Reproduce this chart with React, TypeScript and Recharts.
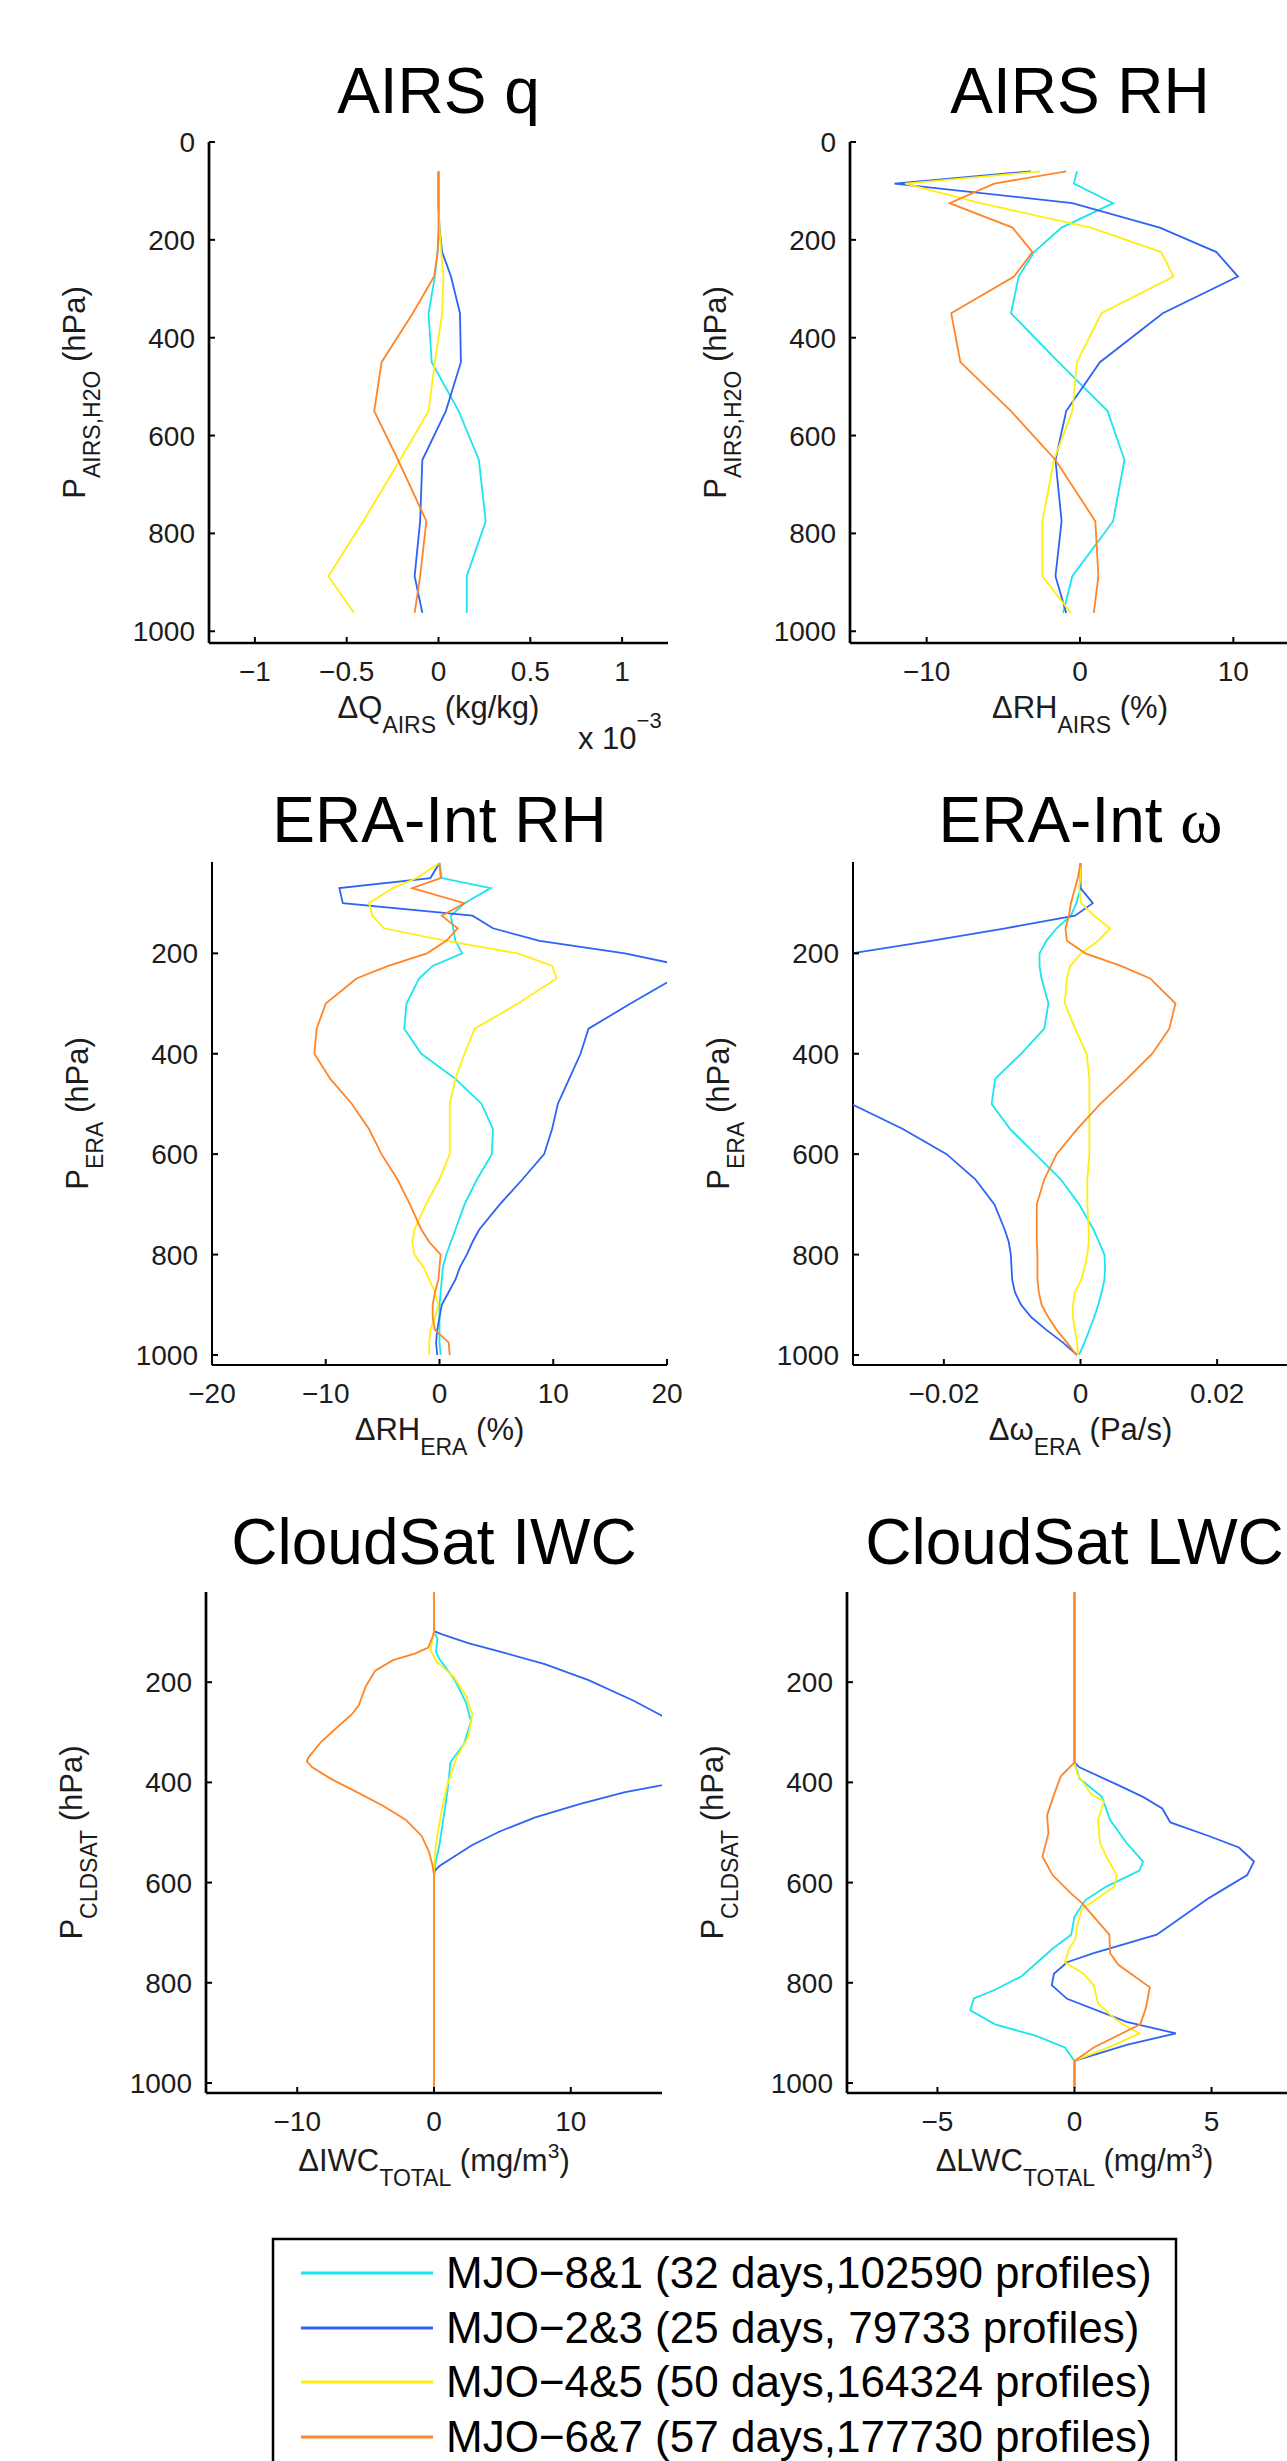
import React from 'react';
import { ScatterChart, Scatter, XAxis, YAxis } from 'recharts';

const FONT = '"Liberation Sans", Arial, Helvetica, sans-serif';
const INK = '#1c1c1c';

const phaseNames = [
  'MJO−8&1 (32 days,102590 profiles)',
  'MJO−2&3 (25 days, 79733 profiles)',
  'MJO−4&5 (50 days,164324 profiles)',
  'MJO−6&7 (57 days,177730 profiles)',
];
const phaseColors = ['#1AE4F0', '#2E63F4', '#FFEE12', '#FF8527'];

// AIRS layer mid pressures (hPa)
const airsP = [60, 85, 125, 175, 225, 275, 350, 450, 550, 650, 775, 887.5, 962.5];

// AIRS q anomaly, in units of 1e-3 kg/kg (axis shows x 10^-3)
const airsQ81 = [0, 0, 0, 0.005, -0.005, -0.02, -0.054, -0.037, 0.11, 0.22, 0.257, 0.154, 0.154];
const airsQ23 = [0, 0, 0, 0.005, 0.02, 0.068, 0.117, 0.122, 0.04, -0.088, -0.1, -0.13, -0.088];
const airsQ45 = [0, 0, 0, 0.005, 0.015, 0.027, 0.02, -0.02, -0.054, -0.21, -0.41, -0.6, -0.46];
const airsQ67 = [0, 0, 0, 0, -0.005, -0.024, -0.14, -0.31, -0.35, -0.22, -0.066, -0.1, -0.13];

// AIRS RH anomaly (%)
const airsRH81 = [-0.2, -0.4, 2.16, -1.2, -3.0, -4.0, -4.5, -1.4, 1.8, 2.9, 2.16, -0.5, -1.1];
const airsRH23 = [-3.2, -12.1, -0.5, 5.2, 8.9, 10.3, 5.4, 1.3, -0.9, -1.6, -1.2, -1.6, -0.9];
const airsRH45 = [-2.6, -11.4, -6.5, 0.7, 5.3, 6.1, 1.4, -0.2, -0.5, -1.7, -2.45, -2.45, -0.6];
const airsRH67 = [-0.9, -5.6, -8.5, -4.4, -3.1, -4.3, -8.4, -7.8, -4.5, -1.6, 1.0, 1.2, 0.9];

// ERA-Interim pressure levels (hPa)
const eraP = [20, 50, 70, 100, 125, 150, 175, 200, 225, 250, 300, 350, 400, 450, 500, 550, 600, 650, 700, 750, 775, 800, 825, 850, 875, 900, 925, 950, 975, 1000];

// ERA RH anomaly (%)
const eraRH81 = [0, 0.2, 4.5, 2.2, 1.0, 1.2, 1.4, 2.0, -0.6, -1.8, -2.9, -3.1, -1.6, 1.4, 3.7, 4.7, 4.6, 3.3, 2.2, 1.4, 1.0, 0.6, 0.3, 0.2, 0.1, 0, 0, 0, 0, 0.1];
const eraRH23 = [0, -0.8, -8.8, -8.5, 2.9, 4.7, 8.8, 16.3, 21.5, 20.6, 16.8, 13.1, 12.4, 11.4, 10.4, 9.9, 9.2, 7.3, 5.3, 3.5, 2.9, 2.4, 1.8, 1.4, 0.8, 0.2, 0, -0.2, -0.3, -0.2];
const eraRH45 = [0, -2.0, -4.1, -6.2, -5.9, -4.9, 0.6, 6.9, 9.9, 10.3, 6.9, 3.1, 2.2, 1.4, 0.9, 0.9, 0.9, 0, -1.2, -2.2, -2.4, -2.2, -1.4, -0.9, -0.4, -0.1, -0.4, -0.8, -0.9, -0.9];
const eraRH67 = [0, 0.1, -2.4, 2.2, 0.2, 1.6, 0.6, -1.1, -4.5, -7.3, -10.0, -10.8, -11.0, -9.6, -7.7, -6.2, -5.1, -3.7, -2.6, -1.6, -0.9, 0.1, 0, -0.1, -0.4, -0.6, -0.6, -0.4, 0.8, 0.9];

// ERA omega anomaly (Pa/s)
const eraW81 = [0, 0, 0, -0.0006, -0.0014, -0.0035, -0.005, -0.006, -0.006, -0.0057, -0.0047, -0.0053, -0.0087, -0.0125, -0.013, -0.0103, -0.0066, -0.0029, -0.0002, 0.0019, 0.0027, 0.0035, 0.0036, 0.0035, 0.0031, 0.0026, 0.002, 0.0013, 0.0006, -0.0002];
const eraW23 = [0, 0, 0, 0.0018, -0.0008, -0.011, -0.0219, -0.0335, -0.045, -0.055, -0.065, -0.07, -0.068, -0.055, -0.0335, -0.026, -0.0196, -0.0154, -0.0126, -0.0111, -0.0105, -0.0102, -0.0101, -0.01, -0.0096, -0.0087, -0.0072, -0.005, -0.0026, -0.0005];
const eraW45 = [0, 0, -0.0002, 0.0001, 0.002, 0.0043, 0.0026, 0.0001, -0.0015, -0.002, -0.0023, -0.0008, 0.0009, 0.0013, 0.0013, 0.0013, 0.0013, 0.001, 0.001, 0.0012, 0.0012, 0.001, 0.0006, 0.0001, -0.0008, -0.0011, -0.0011, -0.0008, -0.0005, -0.0004];
const eraW67 = [0, -0.0004, -0.0008, -0.0014, -0.0017, -0.0022, -0.002, 0.0007, 0.0059, 0.0102, 0.0139, 0.013, 0.0105, 0.0068, 0.0029, -0.0005, -0.0035, -0.0053, -0.0064, -0.0064, -0.0064, -0.0063, -0.0063, -0.0063, -0.0061, -0.0057, -0.0047, -0.0035, -0.002, -0.0006];

// CloudSat IWC anomaly, [hPa, mg/m3]
const iwc81 = [[20, 0], [100, 0], [113, 0.25], [140, 0.15], [154, 0.4], [195, 1.5], [241, 2.35], [278, 2.7], [323, 2.2], [360, 1.2], [415, 1.0], [470, 0.7], [525, 0.4], [562, 0.1], [580, 0], [1010, 0]];
const iwc23 = [[20, 0], [98, 0], [104, 0.55], [122, 2.5], [141, 5.1], [164, 8.1], [196, 11.3], [237, 14.6], [266, 16.6], [300, 18.6], [340, 20], [385, 19.2], [406, 16.6], [420, 13.9], [443, 10.7], [470, 7.4], [498, 4.8], [525, 2.8], [553, 1.2], [567, 0.4], [576, 0.07], [585, 0], [1010, 0]];
const iwc45 = [[20, 0], [100, 0], [136, -0.26], [159, 0.2], [191, 1.5], [228, 2.35], [264, 2.8], [310, 2.5], [347, 1.7], [402, 1.0], [457, 0.55], [521, 0.15], [567, 0], [1010, 0]];
const iwc67 = [[20, 0], [100, 0], [109, -0.1], [131, -0.42], [143, -1.4], [156, -3.0], [177, -4.3], [209, -5.0], [246, -5.5], [264, -6.0], [287, -6.95], [319, -8.25], [351, -9.2], [358, -9.3], [370, -8.9], [392, -7.6], [420, -5.6], [447, -3.7], [475, -2.05], [507, -0.9], [539, -0.36], [567, -0.1], [585, 0], [1010, 0]];

// CloudSat LWC anomaly, [hPa, mg/m3]
const lwc81 = [[20, 0], [360, 0], [392, 0.18], [429, 1.0], [475, 1.3], [521, 1.9], [558, 2.5], [576, 2.37], [608, 1.16], [635, 0.4], [668, 0], [704, -0.12], [732, -0.8], [750, -1.17], [787, -1.93], [814, -2.9], [831, -3.67], [855, -3.8], [883, -2.9], [906, -1.4], [929, -0.35], [952, -0.05], [956, 0], [1010, 0]];
const lwc23 = [[20, 0], [360, 0], [370, 0.18], [402, 1.46], [429, 2.5], [452, 3.2], [480, 3.5], [507, 4.9], [530, 6.0], [558, 6.55], [585, 6.3], [631, 4.9], [677, 3.7], [704, 3.0], [741, 0.7], [759, -0.27], [782, -0.75], [805, -0.83], [832, -0.27], [878, 1.9], [901, 3.7], [924, 1.9], [956, 0], [1010, 0]];
const lwc45 = [[20, 0], [360, 0], [383, 0.1], [425, 0.63], [438, 1.08], [475, 0.86], [521, 0.93], [548, 1.16], [585, 1.54], [608, 1.46], [631, 0.86], [654, 0.26], [686, 0.1], [713, 0.03], [732, -0.2], [759, -0.35], [782, 0.33], [805, 0.7], [841, 0.86], [864, 1.3], [883, 1.76], [901, 2.37], [924, 1.46], [947, 0.4], [956, 0], [1010, 0]];
const lwc67 = [[20, 0], [360, 0], [388, -0.5], [420, -0.72], [466, -1.0], [502, -0.95], [548, -1.17], [585, -0.8], [622, -0.12], [640, 0.26], [668, 0.7], [704, 1.27], [741, 1.3], [764, 1.6], [809, 2.75], [851, 2.6], [883, 2.4], [929, 0.7], [956, 0], [1010, 0]];

// tick labels
const airsPTicks = [0, 200, 400, 600, 800, 1000];
const lowPTicks = [200, 400, 600, 800, 1000];
const qTicks = [-1, -0.5, 0, 0.5, 1];
const airsRHTicks = [-10, 0, 10];
const eraRHTicks = [-20, -10, 0, 10, 20];
const omegaTicks = [-0.02, 0, 0.02];
const iwcTicks = [-10, 0, 10];
const lwcTicks = [-5, 0, 5];

const zip = (ps: number[], vs: number[]) => ps.map((p, i) => ({ p, x: vs[i] }));
const pairs = (rows: number[][]) => rows.map(([p, x]) => ({ p, x }));
const fmt = (v: number) => (v < 0 ? '−' + Math.abs(v) : String(v));

const YW = 140;
const XH = 70;
const MT = 20;
const MR = 40;

const panels = [
  {
    title: 'AIRS q', left: 209, top: 142, w: 459, h: 501, lw: 2.7,
    xDomain: [-1.25, 1.25], xTicks: qTicks, yDomain: [0, 1024], yTicks: airsPTicks,
    xl: { main: 'ΔQ', sub: 'AIRS', tail: '(kg/kg)' }, yl: { main: 'P', sub: 'AIRS,H2O', tail: '(hPa)' },
    series: [zip(airsP, airsQ81), zip(airsP, airsQ23), zip(airsP, airsQ45), zip(airsP, airsQ67)],
  },
  {
    title: 'AIRS RH', left: 850, top: 142, w: 460, h: 501, lw: 2.7,
    xDomain: [-15, 15], xTicks: airsRHTicks, yDomain: [0, 1024], yTicks: airsPTicks,
    xl: { main: 'ΔRH', sub: 'AIRS', tail: '(%)' }, yl: { main: 'P', sub: 'AIRS,H2O', tail: '(hPa)' },
    series: [zip(airsP, airsRH81), zip(airsP, airsRH23), zip(airsP, airsRH45), zip(airsP, airsRH67)],
  },
  {
    title: 'ERA-Int RH', left: 212, top: 862, w: 455, h: 503, lw: 2,
    xDomain: [-20, 20], xTicks: eraRHTicks, yDomain: [18, 1020], yTicks: lowPTicks,
    xl: { main: 'ΔRH', sub: 'ERA', tail: '(%)' }, yl: { main: 'P', sub: 'ERA', tail: '(hPa)' },
    series: [zip(eraP, eraRH81), zip(eraP, eraRH23), zip(eraP, eraRH45), zip(eraP, eraRH67)],
  },
  {
    title: 'ERA-Int ', greek: 'ω', left: 853, top: 862, w: 455, h: 503, lw: 2,
    xDomain: [-0.0333, 0.0333], xTicks: omegaTicks, yDomain: [18, 1020], yTicks: lowPTicks,
    xl: { main: 'Δω', sub: 'ERA', tail: '(Pa/s)' }, yl: { main: 'P', sub: 'ERA', tail: '(hPa)' },
    series: [zip(eraP, eraW81), zip(eraP, eraW23), zip(eraP, eraW45), zip(eraP, eraW67)],
  },
  {
    title: 'CloudSat IWC', left: 206, top: 1592, w: 456, h: 501, lw: 2.7,
    xDomain: [-16.67, 16.67], xTicks: iwcTicks, yDomain: [20, 1020], yTicks: lowPTicks,
    xl: { main: 'ΔIWC', sub: 'TOTAL', tail: '(mg/m', sup: '3', end: ')' }, yl: { main: 'P', sub: 'CLDSAT', tail: '(hPa)' },
    series: [pairs(iwc81), pairs(iwc23), pairs(iwc45), pairs(iwc67)],
  },
  {
    title: 'CloudSat LWC', left: 847, top: 1592, w: 455, h: 501, lw: 2.7,
    xDomain: [-8.3, 8.3], xTicks: lwcTicks, yDomain: [20, 1020], yTicks: lowPTicks,
    xl: { main: 'ΔLWC', sub: 'TOTAL', tail: '(mg/m', sup: '3', end: ')' }, yl: { main: 'P', sub: 'CLDSAT', tail: '(hPa)' },
    series: [pairs(lwc81), pairs(lwc23), pairs(lwc45), pairs(lwc67)],
  },
];

const XTick = (props: any) => {
  const { x, y, payload } = props;
  return (
    <g>
      <line x1={x} x2={x} y1={y} y2={y - 6} stroke="#000" strokeWidth={2} />
      <text x={x} y={y + 38} textAnchor="middle" fontSize={28} fontFamily={FONT} fill={INK}>
        {fmt(payload.value)}
      </text>
    </g>
  );
};

const YTick = (props: any) => {
  const { x, y, payload } = props;
  return (
    <g>
      <line x1={x} x2={x + 6} y1={y} y2={y} stroke="#000" strokeWidth={2} />
      <text x={x - 14} y={y + 10} textAnchor="end" fontSize={28} fontFamily={FONT} fill={INK}>
        {fmt(payload.value)}
      </text>
    </g>
  );
};

const Panel = ({ cfg }: { cfg: any }) => (
  <div style={{ position: 'absolute', left: cfg.left - YW, top: cfg.top - MT }}>
    <ScatterChart
      width={YW + cfg.w + MR}
      height={MT + cfg.h + XH}
      margin={{ top: MT, right: MR, bottom: 0, left: 0 }}
    >
      <XAxis
        type="number"
        dataKey="x"
        domain={cfg.xDomain}
        ticks={cfg.xTicks}
        interval={0}
        allowDataOverflow
        height={XH}
        tickSize={0}
        tickMargin={0}
        tickLine={false}
        axisLine={{ stroke: '#000', strokeWidth: cfg.lw }}
        tick={(p: any) => <XTick {...p} />}
      />
      <YAxis
        type="number"
        dataKey="p"
        domain={cfg.yDomain}
        reversed
        ticks={cfg.yTicks}
        interval={0}
        allowDataOverflow
        width={YW}
        tickSize={0}
        tickMargin={0}
        tickLine={false}
        axisLine={{ stroke: '#000', strokeWidth: cfg.lw }}
        tick={(p: any) => <YTick {...p} />}
      />
      {cfg.series.map((pts: any[], i: number) => (
        <Scatter
          key={i}
          data={pts}
          fill={phaseColors[i]}
          line={{ stroke: phaseColors[i], strokeWidth: 1.8 }}
          lineType="joint"
          shape={() => <g />}
          isAnimationActive={false}
        />
      ))}
    </ScatterChart>
  </div>
);

const TexLabel = ({ x, y, spec, rotate }: { x: number; y: number; spec: any; rotate?: boolean }) => (
  <text
    x={x}
    y={y}
    textAnchor="middle"
    fontFamily={FONT}
    fontSize={31}
    fill={INK}
    style={{ whiteSpace: 'pre' }}
    transform={rotate ? `rotate(-90 ${x} ${y})` : undefined}
  >
    {spec.main}
    <tspan fontSize={23} dy={15}>{spec.sub}</tspan>
    <tspan dy={-15}>{' ' + spec.tail}</tspan>
    {spec.sup ? <tspan fontSize={21} dy={-13}>{spec.sup}</tspan> : null}
    {spec.sup ? <tspan dy={13}>{spec.end}</tspan> : null}
  </text>
);

const legendRows = [2273, 2328, 2382, 2437];

export default function App() {
  return (
    <div
      style={{
        position: 'absolute', left: 0, top: 0, width: 1287, height: 2461,
        overflow: 'hidden', background: '#fff', fontFamily: FONT,
      }}
    >
      {panels.map((cfg, i) => <Panel key={i} cfg={cfg} />)}
      <svg
        width={1287}
        height={2461}
        style={{ position: 'absolute', left: 0, top: 0, pointerEvents: 'none' }}
      >
        {panels.map((cfg, i) => {
          const cx = cfg.left + cfg.w / 2;
          const cy = cfg.top + cfg.h / 2;
          const bottom = cfg.top + cfg.h;
          return (
            <g key={i}>
              <text x={cx} y={cfg.top - (i < 2 ? 29 : i < 4 ? 20 : 28)} textAnchor="middle" fontSize={64} fontFamily={FONT} fill="#000">
                {cfg.title}
                {cfg.greek ? <tspan fontFamily='"Liberation Serif", "Times New Roman", serif'>{cfg.greek}</tspan> : null}
              </text>
              <TexLabel x={cx} y={bottom + (i < 4 ? 75 : 78)} spec={cfg.xl} />
              <TexLabel x={cfg.left - 124} y={cy} spec={cfg.yl} rotate />
            </g>
          );
        })}
        <text x={578} y={749} fontSize={31} fontFamily={FONT} fill={INK}>
          x 10<tspan fontSize={22} dy={-21}>−3</tspan>
        </text>
        <rect x={273} y={2239} width={903} height={260} fill="#fff" stroke="#000" strokeWidth={2.5} />
        {phaseNames.map((name, i) => (
          <g key={name}>
            <line x1={301} x2={433} y1={legendRows[i]} y2={legendRows[i]} stroke={phaseColors[i]} strokeWidth={3} />
            <text x={446} y={legendRows[i] + 15} fontSize={44} fontFamily={FONT} fill="#000">
              {name}
            </text>
          </g>
        ))}
      </svg>
    </div>
  );
}
